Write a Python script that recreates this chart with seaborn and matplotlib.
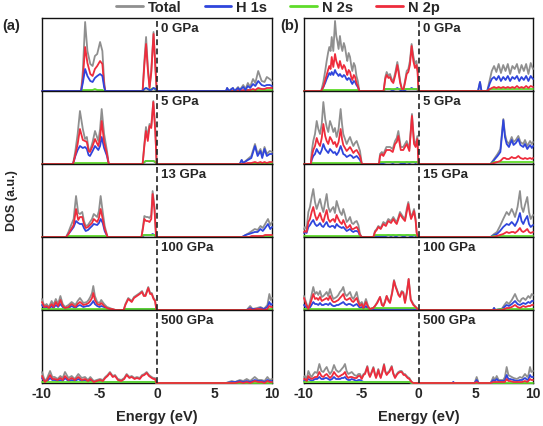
import matplotlib
matplotlib.use("Agg")
import matplotlib.pyplot as plt
import seaborn as sns

# ---------------- data (DOS, a.u.) ----------------
# (a) 0 GPa
A0_E = [-10, -6.6, -6.45, -6.25, -6.05, -5.8, -5.6, -5.4, -5.2, -4.95, -4.75, -4.6, -4.5, -1.25, -1.1, -0.95, -0.8, -0.65, -0.5, -0.3, -0.12, -0.02, 6.0, 6.1, 6.25, 6.6, 6.75, 7.05, 7.2, 7.5, 7.7, 7.9, 8.1, 8.35, 8.55, 8.8, 9.1, 9.35, 9.55, 9.8, 10]
A0_T = [0, 0, 20, 69, 40, 27, 25, 35, 37, 49, 40, 10, 0, 0, 30, 54, 25, 4, 20, 59, 20, 0, 0, 3, 0, 3, 0, 4, 1, 6, 2, 8, 4, 12, 8, 20, 10, 9, 14, 12, 10]
A0_H = [0, 0, 8, 22, 15, 10, 9, 13, 15, 17, 15, 4, 0, 0, 2, 3, 2, 1, 1, 3, 2, 0, 0, 3, 0, 3, 0, 3, 1, 4, 1, 5, 3, 7, 5, 10, 6, 5, 6, 6, 5]
A0_S = [0, 0, 1, 1, 1, 1, 1, 2, 1, 1, 1, 0, 0, 0, 2, 3, 2, 1, 2, 3, 1, 0, 0, 0, 0, 0, 0, 0, 0, 0, 0, 1, 0, 1, 0, 1, 1, 1, 1, 1, 1]
A0_P = [0, 0, 12, 44, 28, 17, 15, 22, 25, 30, 27, 6, 0, 0, 26, 47, 22, 3, 18, 57, 19, 0, 0, 0, 0, 0, 0, 1, 0, 1, 0, 1, 1, 2, 1, 3, 2, 2, 3, 3, 3]

# (a) 5 GPa
A1_E = [-10, -7.3, -7.1, -6.9, -6.7, -6.45, -6.26, -6.1, -5.95, -5.83, -5.6, -5.39, -5.1, -4.95, -4.81, -4.6, -4.35, -4.2, -1.25, -1.1, -0.96, -0.8, -0.65, -0.5, -0.32, -0.15, -0.03, 7.2, 7.36, 7.5, 7.9, 8.2, 8.52, 8.75, 9.0, 9.15, 9.35, 9.55, 9.8, 10]
A1_T = [0, 0, 13, 30, 53, 35, 25, 27, 15, 13, 22, 33, 23, 35, 55, 30, 13, 0, 0, 20, 37, 27, 40, 38, 63, 35, 0, 0, 4, 1, 5, 8, 20, 10, 15, 8, 17, 10, 13, 12]
A1_H = [0, 0, 8, 14, 18, 16, 17, 15, 9, 8, 13, 18, 14, 18, 27, 16, 8, 0, 0, 2, 3, 3, 3, 3, 3, 2, 0, 0, 4, 1, 4, 6, 18, 8, 13, 6, 15, 8, 10, 10]
A1_S = [0, 0, 1, 1, 1, 1, 1, 1, 1, 1, 1, 1, 1, 1, 1, 1, 1, 0, 0, 2, 3, 3, 3, 3, 3, 2, 0, 0, 0, 0, 0, 0, 1, 0, 1, 0, 1, 0, 1, 1]
A1_P = [0, 0, 9, 20, 35, 24, 23, 22, 13, 12, 18, 25, 18, 26, 43, 22, 10, 0, 0, 18, 33, 23, 38, 36, 62, 33, 0, 0, 0, 0, 1, 1, 2, 1, 2, 1, 2, 1, 2, 2]

# (a) 13 GPa
A2_E = [-10, -7.9, -7.7, -7.5, -7.25, -7.04, -6.85, -6.7, -6.5, -6.35, -6.2, -6.0, -5.83, -5.65, -5.5, -5.2, -5.05, -4.9, -4.72, -4.55, -4.3, -1.35, -1.2, -1.1, -0.95, -0.8, -0.65, -0.5, -0.38, -0.22, -0.08, 7.4, 7.7, 8.0, 8.25, 8.5, 8.75, 9.0, 9.2, 9.4, 9.65, 9.85, 10]
A2_T = [0, 0, 5, 11, 18, 41, 24, 23, 25, 16, 11, 12, 15, 18, 23, 20, 26, 41, 25, 11, 0, 0, 12, 21, 20, 20, 19, 22, 46, 30, 0, 0, 2, 4, 6, 8, 7, 11, 9, 13, 18, 12, 15]
A2_H = [0, 0, 3, 6, 10, 16, 14, 13, 13, 9, 6, 7, 9, 11, 13, 12, 14, 18, 14, 6, 0, 0, 1, 2, 2, 2, 2, 2, 3, 2, 0, 0, 2, 3, 4, 5, 5, 8, 6, 9, 13, 8, 10]
A2_S = [0, 0, 1, 1, 1, 1, 1, 1, 1, 1, 1, 1, 1, 1, 1, 1, 1, 1, 1, 1, 0, 0, 2, 2, 2, 2, 2, 2, 2, 2, 0, 0, 0, 0, 0, 0, 0, 1, 0, 1, 1, 1, 1]
A2_P = [0, 0, 3, 7, 12, 28, 17, 20, 20, 13, 9, 10, 12, 14, 18, 15, 19, 28, 18, 8, 0, 0, 10, 18, 16, 16, 15, 18, 43, 28, 0, 0, 0, 0, 1, 1, 1, 1, 1, 2, 2, 2, 2]

# (a) 100 GPa
A3_E = [-10, -9.8, -9.6, -9.4, -9.16, -9.0, -8.8, -8.6, -8.4, -8.2, -8.0, -7.7, -7.42, -7.1, -6.9, -6.7, -6.4, -6.1, -5.95, -5.8, -5.65, -5.54, -5.4, -5.2, -5.0, -4.85, -4.6, -4.35, -4.1, -3.9, -3.6, -2.9, -2.75, -2.5, -2.2, -2.0, -1.75, -1.5, -1.3, -1.15, -1.0, -0.76, -0.6, -0.46, -0.3, -0.17, -0.05, 7.8, 8.1, 8.3, 8.7, 9.0, 9.3, 9.6, 9.77, 9.9, 10]
A3_T = [11, 4, 6, 3, 9, 5, 11, 6, 14, 6, 3, 5, 8, 5, 9, 12, 7, 8, 10, 13, 17, 24, 14, 8, 7, 10, 6, 3, 2, 1, 0, 0, 6, 12, 9, 13, 15, 17, 19, 15, 15, 23, 17, 17, 12, 10, 0, 0, 4, 1, 2, 3, 1, 5, 16, 10, 12]
A3_H = [5, 2, 3, 1, 4, 2, 5, 3, 6, 3, 1, 2, 4, 2, 4, 5, 3, 4, 4, 5, 7, 9, 6, 4, 3, 4, 3, 1, 1, 0, 0, 0, 1, 1, 1, 1, 1, 1, 1, 1, 1, 1, 1, 1, 1, 1, 0, 0, 2, 1, 1, 2, 1, 3, 8, 5, 6]
A3_S = [1, 1, 1, 1, 1, 1, 1, 1, 1, 1, 1, 1, 1, 1, 1, 1, 1, 1, 1, 1, 1, 1, 1, 1, 1, 1, 1, 1, 1, 0, 0, 0, 1, 1, 1, 1, 1, 1, 1, 1, 1, 1, 1, 1, 1, 1, 0, 0, 0, 0, 0, 0, 0, 0, 1, 1, 1]
A3_P = [8, 3, 4, 2, 6, 3, 8, 4, 10, 4, 2, 3, 6, 3, 6, 8, 5, 6, 7, 9, 12, 17, 10, 6, 5, 7, 4, 2, 1, 1, 0, 0, 5, 11, 8, 12, 14, 16, 18, 14, 14, 22, 16, 16, 11, 9, 0, 0, 1, 0, 1, 1, 0, 1, 4, 3, 3]

# (a) 500 GPa
A4_E = [-10, -9.75, -9.55, -9.3, -9.1, -8.9, -8.65, -8.4, -8.2, -8.0, -7.7, -7.42, -7.15, -6.84, -6.55, -6.26, -6.0, -5.8, -5.5, -5.25, -4.96, -4.7, -4.5, -4.3, -4.09, -3.85, -3.65, -3.4, -3.1, -2.85, -2.64, -2.4, -2.2, -1.95, -1.75, -1.5, -1.3, -1.1, -0.9, -0.7, -0.46, -0.3, -0.17, -0.05, 6.0, 6.5, 6.8, 7.2, 7.5, 7.8, 8.1, 8.5, 8.8, 9.1, 9.35, 9.6, 9.8, 10]
A4_T = [11, 2, 5, 12, 6, 6, 4, 7, 5, 11, 5, 7, 4, 9, 5, 6, 3, 6, 2, 3, 4, 3, 6, 8, 11, 7, 8, 4, 3, 5, 9, 6, 7, 5, 6, 5, 8, 9, 11, 8, 6, 5, 5, 0, 0, 2, 1, 3, 2, 4, 2, 6, 3, 3, 2, 6, 3, 4]
A4_H = [5, 1, 2, 5, 3, 3, 2, 3, 2, 5, 2, 3, 2, 4, 2, 3, 1, 3, 1, 1, 2, 1, 1, 1, 1, 1, 1, 1, 1, 1, 1, 1, 1, 1, 1, 1, 1, 1, 1, 1, 1, 1, 1, 0, 0, 1, 1, 2, 1, 2, 1, 3, 2, 2, 1, 3, 2, 2]
A4_S = [1, 1, 1, 1, 1, 1, 1, 1, 1, 1, 1, 1, 1, 1, 1, 1, 1, 1, 1, 1, 1, 1, 1, 1, 1, 1, 1, 1, 1, 1, 1, 1, 1, 1, 1, 1, 1, 1, 1, 1, 1, 1, 1, 0, 0, 0, 0, 0, 0, 0, 0, 0, 0, 0, 0, 0, 0, 0]
A4_P = [7, 1, 3, 8, 4, 4, 3, 5, 3, 7, 3, 5, 3, 6, 3, 4, 2, 4, 1, 2, 3, 2, 5, 7, 10, 6, 7, 3, 2, 4, 8, 5, 6, 4, 5, 4, 7, 8, 10, 7, 5, 4, 4, 0, 0, 0, 0, 1, 0, 1, 0, 2, 1, 1, 0, 2, 1, 1]

# (b) 0 GPa
B0_E = [-10, -8.5, -8.31, -8.15, -8.02, -7.9, -7.79, -7.68, -7.58, -7.44, -7.29, -7.18, -7.09, -6.98, -6.86, -6.75, -6.65, -6.52, -6.42, -6.3, -6.22, -6.1, -5.98, -5.88, -5.78, -5.65, -5.54, -5.42, -5.3, -5.17, -3.05, -2.9, -2.78, -2.62, -2.49, -2.35, -2.2, -2.0, -1.85, -1.72, -1.6, -1.45, -1.3, -1.15, -1.03, -0.89, -0.75, -0.6, -0.45, -0.31, -0.18, -0.08, 0.0, 5.2, 5.37, 5.5, 6.0, 6.24, 6.4, 6.6, 6.8, 7.0, 7.2, 7.4, 7.6, 7.8, 8.0, 8.2, 8.4, 8.6, 8.8, 9.0, 9.2, 9.4, 9.6, 9.8, 10]
B0_T = [0, 0, 9, 20, 30, 38, 44, 40, 54, 40, 70, 55, 50, 42, 55, 45, 40, 48, 44, 35, 30, 38, 34, 26, 20, 28, 25, 15, 10, 0, 0, 14, 19, 15, 17, 12, 10, 20, 29, 20, 10, 2, 2, 12, 20, 22, 30, 47, 35, 27, 30, 22, 0, 0, 9, 0, 0, 12, 20, 25, 19, 27, 18, 26, 20, 27, 17, 25, 22, 27, 18, 26, 20, 27, 17, 28, 22]
B0_H = [0, 0, 4, 8, 12, 15, 18, 16, 19, 16, 21, 18, 17, 15, 17, 15, 14, 16, 15, 12, 11, 13, 12, 9, 7, 10, 9, 6, 4, 0, 0, 2, 2, 2, 2, 1, 1, 2, 3, 2, 1, 0, 0, 1, 2, 2, 2, 3, 2, 2, 2, 1, 0, 0, 9, 0, 0, 8, 12, 14, 11, 15, 10, 14, 11, 15, 10, 14, 12, 15, 10, 14, 11, 15, 10, 15, 12]
B0_S = [0, 0, 1, 1, 1, 1, 1, 1, 1, 1, 1, 1, 1, 1, 1, 1, 1, 1, 1, 1, 1, 1, 1, 1, 1, 1, 1, 1, 1, 0, 0, 2, 2, 2, 2, 2, 2, 2, 2, 2, 2, 2, 2, 2, 2, 2, 2, 2, 2, 2, 2, 2, 0, 0, 0, 0, 0, 2, 2, 2, 2, 2, 2, 2, 2, 2, 2, 2, 2, 2, 2, 2, 2, 2, 2, 2, 2]
B0_P = [0, 0, 4, 11, 16, 21, 25, 22, 34, 24, 37, 30, 27, 23, 30, 25, 22, 26, 24, 19, 16, 21, 19, 14, 11, 16, 14, 8, 5, 0, 0, 12, 16, 13, 14, 10, 8, 17, 26, 17, 8, 2, 2, 10, 17, 19, 26, 45, 30, 23, 26, 19, 0, 0, 0, 0, 0, 2, 3, 4, 3, 4, 3, 4, 3, 4, 3, 4, 3, 5, 3, 4, 3, 5, 3, 5, 4]

# (b) 5 GPa
B1_E = [-10, -9.4, -9.33, -9.19, -9.04, -8.89, -8.75, -8.6, -8.45, -8.31, -8.15, -8.02, -7.88, -7.73, -7.58, -7.44, -7.3, -7.15, -6.98, -6.8, -6.68, -6.57, -6.42, -6.27, -6.12, -5.98, -5.83, -5.69, -5.55, -5.4, -5.25, -5.11, -4.95, -3.45, -3.36, -3.2, -3.07, -2.8, -2.49, -2.25, -2.05, -1.9, -1.76, -1.55, -1.33, -1.18, -1.03, -0.8, -0.57, -0.39, -0.25, -0.1, 0.0, 6.3, 6.6, 6.9, 7.15, 7.41, 7.55, 7.7, 7.9, 8.14, 8.3, 8.5, 8.72, 8.9, 9.15, 9.3, 9.5, 9.74, 9.9, 10]
B1_T = [0, 0, 12, 23, 30, 43, 35, 30, 40, 62, 45, 37, 32, 43, 38, 32, 36, 27, 35, 55, 40, 30, 25, 20, 24, 27, 22, 18, 21, 23, 18, 13, 0, 0, 10, 12, 10, 17, 17, 15, 23, 26, 33, 17, 17, 20, 23, 15, 50, 23, 20, 28, 0, 0, 5, 10, 15, 45, 30, 23, 20, 27, 22, 24, 28, 22, 20, 24, 18, 23, 20, 22]
B1_H = [0, 0, 4, 8, 10, 15, 12, 10, 14, 20, 15, 13, 11, 15, 13, 11, 12, 9, 12, 18, 14, 10, 9, 7, 8, 9, 8, 6, 7, 8, 6, 4, 0, 0, 1, 1, 1, 2, 2, 1, 2, 2, 2, 1, 1, 1, 2, 1, 2, 2, 1, 2, 0, 0, 4, 8, 12, 44, 27, 20, 17, 24, 19, 21, 25, 19, 17, 20, 15, 19, 16, 18]
B1_S = [0, 0, 1, 1, 1, 1, 1, 1, 1, 1, 1, 1, 1, 1, 1, 1, 1, 1, 1, 1, 1, 1, 1, 1, 1, 1, 1, 1, 1, 1, 1, 1, 0, 0, 2, 2, 2, 2, 2, 2, 2, 2, 2, 2, 2, 2, 2, 2, 2, 2, 2, 2, 0, 0, 2, 2, 2, 2, 2, 2, 2, 2, 2, 2, 2, 2, 2, 2, 2, 2, 2, 2]
B1_P = [0, 0, 7, 14, 18, 26, 21, 18, 26, 40, 28, 23, 20, 27, 24, 20, 22, 17, 22, 35, 25, 19, 16, 13, 15, 17, 14, 11, 13, 14, 11, 8, 0, 0, 8, 10, 8, 14, 14, 12, 20, 22, 28, 14, 14, 17, 20, 13, 48, 20, 17, 25, 0, 0, 1, 2, 3, 6, 6, 5, 5, 7, 6, 6, 8, 6, 5, 6, 5, 6, 5, 6]

# (b) 15 GPa
B2_E = [-10, -9.91, -9.77, -9.62, -9.48, -9.33, -9.19, -9.04, -8.89, -8.75, -8.6, -8.45, -8.31, -8.15, -8.02, -7.88, -7.73, -7.58, -7.44, -7.3, -7.15, -7.0, -6.86, -6.7, -6.57, -6.42, -6.27, -6.12, -5.98, -5.83, -5.69, -5.55, -5.4, -5.25, -5.11, -4.96, -3.94, -3.8, -3.65, -3.51, -3.3, -3.07, -2.85, -2.64, -2.4, -2.2, -2.05, -1.9, -1.75, -1.62, -1.4, -1.18, -1.03, -0.89, -0.75, -0.65, -0.5, -0.39, -0.25, -0.16, -0.05, 6.3, 6.6, 6.85, 7.12, 7.4, 7.7, 7.9, 8.14, 8.3, 8.43, 8.65, 8.86, 9.0, 9.15, 9.3, 9.5, 9.65, 9.8, 10]
B2_T = [8, 10, 8, 25, 30, 40, 48, 35, 28, 33, 38, 30, 25, 35, 43, 30, 25, 28, 30, 24, 36, 30, 25, 22, 28, 22, 15, 17, 20, 14, 13, 15, 16, 12, 3, 0, 0, 6, 8, 11, 9, 15, 13, 18, 16, 20, 17, 15, 20, 25, 21, 18, 28, 35, 25, 20, 24, 28, 18, 5, 0, 0, 3, 5, 11, 18, 25, 22, 28, 24, 20, 30, 46, 30, 25, 32, 40, 25, 18, 22]
B2_H = [4, 5, 4, 10, 12, 15, 17, 13, 11, 12, 14, 11, 10, 13, 15, 11, 10, 11, 11, 9, 13, 11, 10, 9, 10, 8, 6, 7, 8, 6, 5, 6, 6, 5, 1, 0, 0, 1, 1, 1, 1, 1, 1, 2, 1, 2, 1, 1, 2, 2, 1, 1, 2, 2, 1, 1, 1, 2, 1, 0, 0, 0, 2, 3, 6, 10, 13, 12, 15, 13, 11, 16, 24, 16, 13, 17, 21, 13, 10, 12]
B2_S = [1, 1, 1, 1, 1, 1, 1, 1, 1, 1, 1, 1, 1, 1, 1, 1, 1, 1, 1, 1, 1, 1, 1, 1, 1, 1, 1, 1, 1, 1, 1, 1, 1, 1, 1, 0, 0, 2, 2, 2, 2, 2, 2, 2, 2, 2, 2, 2, 2, 2, 2, 2, 2, 2, 2, 2, 2, 2, 2, 1, 0, 0, 1, 1, 1, 1, 1, 1, 1, 1, 1, 1, 1, 1, 1, 1, 1, 1, 1, 1]
B2_P = [5, 6, 5, 15, 18, 25, 30, 22, 17, 20, 24, 18, 15, 22, 27, 18, 15, 17, 18, 15, 22, 18, 15, 13, 17, 13, 9, 10, 12, 8, 8, 9, 10, 7, 2, 0, 0, 5, 7, 10, 8, 13, 11, 16, 14, 18, 15, 13, 18, 23, 19, 16, 25, 33, 23, 18, 22, 26, 16, 4, 0, 0, 0, 1, 2, 3, 5, 4, 5, 5, 4, 6, 9, 6, 5, 6, 8, 5, 4, 5]

# (b) 100 GPa
B3_E = [-10, -9.83, -9.62, -9.4, -9.19, -9.04, -8.89, -8.75, -8.6, -8.45, -8.31, -8.15, -8.02, -7.88, -7.73, -7.58, -7.44, -7.3, -7.15, -7.0, -6.86, -6.7, -6.57, -6.42, -6.27, -6.12, -5.98, -5.83, -5.69, -5.55, -5.4, -5.25, -5.11, -4.95, -4.82, -4.59, -4.4, -4.24, -3.95, -3.8, -3.6, -3.36, -3.2, -3.07, -2.92, -2.78, -2.62, -2.49, -2.3, -2.14, -2.0, -1.9, -1.75, -1.62, -1.47, -1.33, -1.18, -1.02, -0.86, -0.68, -0.45, -0.16, -0.02, 6.5, 6.6, 6.7, 7.27, 7.5, 7.7, 7.9, 8.15, 8.43, 8.65, 8.86, 9.0, 9.15, 9.35, 9.59, 9.75, 9.89, 10]
B3_T = [14, 8, 1, 12, 23, 16, 18, 15, 19, 13, 14, 16, 18, 14, 21, 15, 11, 12, 13, 15, 18, 20, 23, 16, 14, 16, 18, 13, 11, 14, 18, 10, 6, 8, 3, 11, 4, 1, 2, 4, 8, 13, 6, 4, 9, 14, 10, 8, 18, 30, 24, 21, 16, 14, 19, 18, 8, 18, 31, 11, 6, 2, 0, 0, 2, 0, 1, 5, 8, 6, 10, 16, 10, 8, 11, 12, 10, 14, 12, 16, 15]
B3_H = [5, 3, 0, 4, 8, 6, 6, 5, 7, 5, 5, 6, 6, 5, 7, 5, 4, 4, 5, 5, 6, 7, 8, 6, 5, 6, 6, 5, 4, 5, 6, 4, 2, 3, 1, 4, 1, 0, 0, 1, 1, 1, 1, 1, 1, 1, 1, 1, 1, 1, 1, 1, 1, 1, 1, 1, 1, 1, 1, 1, 1, 0, 0, 0, 2, 0, 1, 3, 5, 4, 6, 9, 6, 5, 6, 7, 6, 8, 7, 9, 9]
B3_S = [1, 1, 1, 1, 1, 1, 1, 1, 1, 1, 1, 1, 1, 1, 1, 1, 1, 1, 1, 1, 1, 1, 1, 1, 1, 1, 1, 1, 1, 1, 1, 1, 1, 1, 1, 1, 1, 1, 2, 2, 2, 2, 2, 2, 2, 2, 2, 2, 2, 2, 2, 2, 2, 2, 2, 2, 2, 2, 2, 2, 2, 2, 0, 0, 0, 0, 1, 1, 1, 1, 1, 1, 1, 1, 1, 1, 1, 1, 1, 1, 1]
B3_P = [12, 6, 1, 8, 16, 11, 12, 10, 13, 9, 10, 11, 12, 10, 14, 10, 8, 8, 9, 10, 12, 14, 16, 11, 10, 11, 12, 9, 8, 10, 12, 7, 4, 6, 2, 8, 3, 1, 2, 4, 7, 13, 5, 4, 8, 14, 9, 7, 17, 29, 23, 20, 15, 13, 18, 17, 7, 17, 31, 10, 5, 2, 0, 0, 0, 0, 0, 1, 2, 2, 3, 5, 3, 2, 3, 4, 3, 4, 4, 5, 5]

# (b) 500 GPa
B4_E = [-10, -9.91, -9.76, -9.62, -9.47, -9.33, -9.18, -9.04, -8.85, -8.66, -8.48, -8.31, -8.15, -8.02, -7.88, -7.73, -7.55, -7.38, -7.2, -7.0, -6.85, -6.71, -6.56, -6.42, -6.28, -6.13, -5.98, -5.83, -5.6, -5.4, -5.25, -5.11, -4.96, -4.8, -4.67, -4.47, -4.35, -4.24, -4.1, -3.94, -3.82, -3.71, -3.6, -3.51, -3.4, -3.3, -3.15, -3.01, -2.9, -2.78, -2.65, -2.55, -2.34, -2.2, -2.05, -1.9, -1.76, -1.6, -1.47, -1.3, -1.18, -0.95, -0.8, -0.6, -0.45, -0.3, 3.0, 3.04, 3.1, 4.9, 5.08, 5.25, 6.3, 6.53, 6.68, 6.83, 7.0, 7.4, 7.55, 7.7, 7.85, 7.99, 8.3, 8.6, 8.86, 9.05, 9.3, 9.5, 9.6, 9.74, 9.85, 10]
B4_T = [6, 7, 4, 12, 8, 6, 9, 11, 10, 19, 12, 11, 14, 16, 12, 9, 12, 18, 13, 11, 12, 14, 16, 19, 12, 9, 10, 11, 8, 7, 9, 9, 5, 9, 10, 17, 10, 7, 11, 16, 10, 6, 10, 14, 9, 6, 12, 19, 12, 9, 11, 12, 17, 10, 6, 9, 11, 12, 12, 9, 9, 6, 5, 1, 0, 0, 0, 1, 0, 0, 6, 0, 0, 6, 3, 7, 3, 3, 6, 16, 8, 7, 5, 4, 6, 5, 9, 6, 8, 16, 11, 12]
B4_H = [2, 3, 2, 4, 3, 2, 3, 4, 4, 6, 4, 4, 5, 5, 4, 3, 4, 6, 4, 4, 4, 5, 5, 6, 4, 3, 3, 4, 3, 2, 3, 3, 2, 1, 1, 1, 1, 1, 1, 1, 1, 1, 1, 1, 1, 1, 1, 1, 1, 1, 1, 1, 1, 1, 1, 1, 1, 1, 1, 1, 1, 1, 1, 0, 0, 0, 0, 1, 0, 0, 3, 0, 0, 3, 2, 4, 2, 2, 3, 8, 4, 4, 3, 2, 3, 3, 5, 3, 4, 8, 6, 6]
B4_S = [1, 1, 1, 1, 1, 1, 1, 1, 1, 1, 1, 1, 1, 1, 1, 1, 1, 1, 1, 1, 1, 1, 1, 1, 1, 1, 1, 1, 1, 1, 1, 1, 1, 1, 1, 1, 1, 1, 1, 1, 1, 1, 1, 1, 1, 1, 1, 1, 1, 1, 1, 1, 1, 1, 1, 1, 1, 1, 1, 1, 1, 1, 1, 0, 0, 0, 0, 0, 0, 0, 0, 0, 0, 0, 0, 0, 0, 0, 0, 0, 0, 0, 0, 0, 0, 0, 0, 0, 0, 0, 0, 0]
B4_P = [4, 4, 2, 7, 5, 4, 5, 6, 6, 11, 7, 6, 8, 9, 7, 5, 7, 11, 8, 6, 7, 8, 9, 11, 7, 5, 6, 6, 5, 5, 7, 7, 4, 8, 9, 16, 9, 6, 10, 15, 9, 5, 9, 13, 8, 5, 11, 18, 11, 8, 10, 11, 16, 9, 5, 8, 10, 11, 11, 8, 8, 5, 4, 1, 0, 0, 0, 0, 0, 0, 1, 0, 0, 1, 1, 1, 1, 1, 1, 4, 2, 2, 1, 1, 1, 1, 2, 1, 2, 4, 3, 3]

PRESSURES_A = ["0 GPa", "5 GPa", "13 GPa", "100 GPa", "500 GPa"]
PRESSURES_B = ["0 GPa", "5 GPa", "15 GPa", "100 GPa", "500 GPa"]
SERIES_NAMES = ["Total", "H 1s", "N 2s", "N 2p"]
XTICKS = [-10, -5, 0, 5, 10]

PANEL_A = [(A0_E, A0_T, A0_H, A0_S, A0_P), (A1_E, A1_T, A1_H, A1_S, A1_P),
           (A2_E, A2_T, A2_H, A2_S, A2_P), (A3_E, A3_T, A3_H, A3_S, A3_P),
           (A4_E, A4_T, A4_H, A4_S, A4_P)]
PANEL_B = [(B0_E, B0_T, B0_H, B0_S, B0_P), (B1_E, B1_T, B1_H, B1_S, B1_P),
           (B2_E, B2_T, B2_H, B2_S, B2_P), (B3_E, B3_T, B3_H, B3_S, B3_P),
           (B4_E, B4_T, B4_H, B4_S, B4_P)]

# ---------------- style ----------------
sns.set_theme(style="white")
plt.rcParams["font.family"] = ["Liberation Sans", "DejaVu Sans"]
plt.rcParams["font.weight"] = "bold"
plt.rcParams["axes.unicode_minus"] = False

COLORS = {"Total": "#8f8f8f", "H 1s": "#2f45dc", "N 2s": "#5fdc2a", "N 2p": "#ee2c3c"}
LW = 1.3

W, H = 543, 427
fig = plt.figure(figsize=(W / 100, H / 100), dpi=100)

TOP, BOT = 19, 384
SUBH = (BOT - TOP) / 5
COLS = [(42, 272), (304, 533)]


def draw_sub(ax, data, label, blue_on_top=False):
    E, T, Hs, S, P = data
    order = [("Total", T), ("N 2s", S), ("N 2p", P), ("H 1s", Hs)] if blue_on_top else \
            [("Total", T), ("H 1s", Hs), ("N 2s", S), ("N 2p", P)]
    for name, vals in order:
        sns.lineplot(x=E, y=vals, ax=ax, color=COLORS[name], linewidth=LW,
                     estimator=None, sort=False, clip_on=False, zorder=3)
    ax.axvline(0, color="#222222", lw=1.2, ls=(0, (3.5, 2.0)), zorder=4)
    ax.set_xlim(-10, 10)
    ax.set_ylim(0, SUBH)
    ax.set_yticks([])
    ax.set_ylabel("")
    ax.set_xticks(XTICKS)
    ax.tick_params(axis="x", direction="in", length=2.5, width=0.8, color="#333333",
                   labelsize=10, pad=2)
    for sp in ax.spines.values():
        sp.set_color("#111111")
        sp.set_linewidth(1.0)
    ax.text(0.35, SUBH - 10, label, fontsize=9.5, fontweight="bold",
            ha="left", va="center", zorder=5)


for col, (x0, x1) in enumerate(COLS):
    panels = PANEL_A if col == 0 else PANEL_B
    labels = PRESSURES_A if col == 0 else PRESSURES_B
    for i in range(5):
        ytop = TOP + i * SUBH
        ax = fig.add_axes([x0 / W, 1 - (ytop + SUBH) / H, (x1 - x0) / W, SUBH / H])
        draw_sub(ax, panels[i], labels[i], blue_on_top=(col == 0 and i == 0))
        if i < 4:
            ax.tick_params(axis="x", labelbottom=False)
            ax.set_xlabel("")
        else:
            ax.set_xticklabels([str(t) for t in XTICKS], fontweight="bold")
            ax.set_xlabel("Energy (eV)", fontsize=10.5, fontweight="bold", labelpad=7)

fig.text(12 / W, 1 - 201 / H, "DOS (a.u.)", rotation=90, fontsize=9, fontweight="bold",
         ha="center", va="center")
fig.text(2 / W, 1 - 26 / H, "(a)", fontsize=10.5, fontweight="bold", ha="left", va="center")
fig.text(280 / W, 1 - 26 / H, "(b)", fontsize=10.5, fontweight="bold", ha="left", va="center")

handles = [plt.Line2D([], [], color=COLORS[n], lw=2.0) for n in SERIES_NAMES]
fig.legend(handles, SERIES_NAMES, loc="center", bbox_to_anchor=(278 / W, 1 - 8 / H),
           ncol=4, frameon=False, fontsize=10.5, handlelength=1.8, handletextpad=0.35,
           columnspacing=1.6, borderaxespad=0, borderpad=0,
           prop={"weight": "bold", "size": 10.5})

fig.savefig("out.png", dpi=100)
